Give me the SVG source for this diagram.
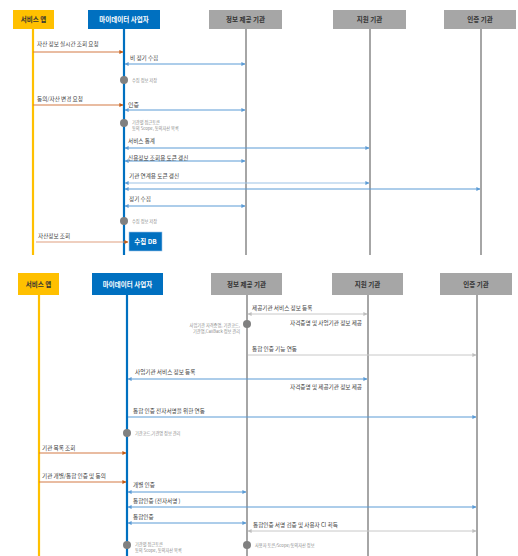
<svg xmlns="http://www.w3.org/2000/svg" width="518" height="556" viewBox="0 0 518 556">
<style>
text{font-family:"Noto Sans CJK KR","Noto Sans",sans-serif}
.hd{font-size:6.5px;font-weight:bold;text-anchor:middle}
.hdw{fill:#fff}
.hdd{fill:#333}
.lb{font-size:5.6px;fill:#404040}
.nt{font-size:4.2px;fill:#8a8a8a}
.ly{stroke:#FFC000;stroke-width:2.2}
.lbl{stroke:#0070C0;stroke-width:2.2}
.lg{stroke:#A6A6A6;stroke-width:2}
.ao{stroke:#D47A45;stroke-width:1.1;fill:none;marker-end:url(#mo)}
.ab{stroke:#5B9BD5;stroke-width:1;fill:none}
.ab2{stroke:#5B9BD5;stroke-width:1;fill:none;marker-start:url(#mb);marker-end:url(#mb)}
.ab1{stroke:#5B9BD5;stroke-width:1;fill:none;marker-end:url(#mb)}
.ag2{stroke:#C8C8C8;stroke-width:1;fill:none;marker-start:url(#mg);marker-end:url(#mg)}
.ag1{stroke:#C8C8C8;stroke-width:1;fill:none;marker-end:url(#mg)}
.dot{fill:#808080}
</style>
<defs>
<marker id="mo" viewBox="0 0 10 10" refX="9" refY="5" markerWidth="4" markerHeight="4" orient="auto-start-reverse" markerUnits="userSpaceOnUse"><path d="M0,0L10,5L0,10z" fill="#C55A11"/></marker>
<marker id="mb" viewBox="0 0 10 10" refX="9" refY="5" markerWidth="4" markerHeight="4" orient="auto-start-reverse" markerUnits="userSpaceOnUse"><path d="M0,0L10,5L0,10z" fill="#5B9BD5"/></marker>
<marker id="mg" viewBox="0 0 10 10" refX="9" refY="5" markerWidth="4" markerHeight="4" orient="auto-start-reverse" markerUnits="userSpaceOnUse"><path d="M0,0L10,5L0,10z" fill="#BFBFBF"/></marker>
</defs>
<rect width="518" height="556" fill="#fff"/>

<!-- TOP PANEL -->
<g id="t-app"><line class="ly" x1="33" y1="29" x2="33" y2="255"/><rect x="13" y="10" width="41" height="19" fill="#FFC000"/><text class="hd hdd" x="33.5" y="22">서비스 앱</text></g>
<g id="t-md"><line class="lbl" x1="124" y1="29" x2="124" y2="255"/><rect x="88" y="10" width="72" height="19" fill="#0070C0"/><text class="hd hdw" x="124" y="22">마이데이터 사업자</text></g>
<g id="t-info"><line class="lg" x1="246" y1="29" x2="246" y2="255"/><rect x="209" y="10" width="73" height="19" fill="#A6A6A6"/><text class="hd hdd" x="245.5" y="22">정보 제공 기관</text></g>
<g id="t-sup"><line class="lg" x1="370" y1="29" x2="370" y2="255"/><rect x="333" y="10" width="73" height="19" fill="#A6A6A6"/><text class="hd hdd" x="369.5" y="22">지원 기관</text></g>
<g id="t-auth"><line class="lg" x1="481" y1="29" x2="481" y2="255"/><rect x="444" y="10" width="72" height="19" fill="#A6A6A6"/><text class="hd hdd" x="480" y="22">인증 기관</text></g>
<g id="t-db"><rect x="129" y="232" width="33" height="19" fill="#0070C0" stroke="#9DC3E6" stroke-width="0.6"/><text class="hd hdw" x="145.5" y="244">수집 DB</text></g>

<g id="t-notes">
<circle class="dot" cx="124" cy="80" r="4"/><text class="nt" x="132" y="81.5">수집 정보 저장</text>
<circle class="dot" cx="124" cy="123" r="4"/><text class="nt" x="132" y="123.5">기관별 접근토큰</text><text class="nt" x="132" y="129.5">동의 Scope, 동의자산 목록</text>
<circle class="dot" cx="124" cy="221" r="4"/><text class="nt" x="132" y="222.5">수집 정보 저장</text>
</g>

<g id="t-connectors">
<line class="ao" x1="33" y1="52" x2="123" y2="52"/><text class="lb" x="37" y="46">자산 정보 실시간 조회 요청</text>
<line class="ab2" x1="125" y1="64" x2="245" y2="64"/><text class="lb" x="130" y="60">비 정기 수집</text>
<line class="ao" x1="33" y1="105" x2="123" y2="105"/><text class="lb" x="37" y="101">동의/자산 변경 요청</text>
<line class="ab2" x1="125" y1="110" x2="245" y2="110"/><text class="lb" x="128" y="107" style="font-size:6px">인증</text>
<line class="ab2" x1="125" y1="148" x2="369" y2="148"/><text class="lb" x="128" y="143">서비스 통계</text>
<line class="ab2" x1="125" y1="161" x2="245" y2="161"/><text class="lb" x="128" y="160">신용정보 조회용 토큰 갱신</text>
<line class="ab2" x1="125" y1="183" x2="369" y2="183" style="stroke:#9DC3E6"/>
<line class="ab2" x1="125" y1="189" x2="480" y2="189"/><text class="lb" x="129" y="178">기관 연계용 토큰 갱신</text>
<line class="ab2" x1="125" y1="206" x2="245" y2="206"/><text class="lb" x="129" y="201">정기 수집</text>
<line class="ao" x1="36" y1="242" x2="128" y2="242" style="stroke:#E0A080"/><text class="lb" x="38" y="238">자산정보 조회</text>
</g>

<!-- BOTTOM PANEL -->
<g id="b-app"><line class="ly" x1="39" y1="295" x2="39" y2="556"/><rect x="18" y="273" width="41" height="22" fill="#FFC000"/><text class="hd hdd" x="38.5" y="286.5">서비스 앱</text></g>
<g id="b-md"><line class="lbl" x1="127" y1="295" x2="127" y2="556"/><rect x="92" y="273" width="71" height="22" fill="#0070C0"/><text class="hd hdw" x="127.5" y="286.5">마이데이터 사업자</text></g>
<g id="b-info"><line class="lg" x1="247" y1="295" x2="247" y2="556"/><rect x="211" y="273" width="71" height="22" fill="#A6A6A6"/><text class="hd hdd" x="246.5" y="286.5">정보 제공 기관</text></g>
<g id="b-sup"><line class="lg" x1="368" y1="295" x2="368" y2="556"/><rect x="332" y="273" width="71" height="22" fill="#A6A6A6"/><text class="hd hdd" x="367.5" y="286.5">지원 기관</text></g>
<g id="b-auth"><line class="lg" x1="477" y1="295" x2="477" y2="556"/><rect x="440" y="273" width="72" height="22" fill="#A6A6A6"/><text class="hd hdd" x="476" y="286.5">인증 기관</text></g>

<g id="b-notes">
<circle class="dot" cx="247" cy="324" r="4"/>
<text class="nt" x="240" y="327" text-anchor="end">사업기관 자격증명, 기관코드,</text>
<text class="nt" x="240" y="333" text-anchor="end">기관명,CallBack 정보 관리</text>
<circle class="dot" cx="127" cy="433" r="4"/><text class="nt" x="135" y="434.5">기관코드,기관명 정보 관리</text>
<circle class="dot" cx="127" cy="545" r="4"/><text class="nt" x="135" y="546">기관별 접근토큰</text><text class="nt" x="135" y="551.5">동의 Scope, 동의자산 목록</text>
<circle class="dot" cx="247" cy="545" r="4"/><text class="nt" x="255" y="547">사용자 토큰/Scope/동의자산 정보</text>
</g>

<g id="b-connectors">
<line class="ag2" x1="248" y1="314" x2="367" y2="314"/><text class="lb" x="252" y="310">제공기관 서비스 정보 등록</text>
<text class="lb" x="362" y="325" text-anchor="end">자격증명 및 사업기관 정보 제공</text>
<line class="ag1" x1="248" y1="355" x2="476" y2="355"/><text class="lb" x="252" y="351">통합 인증 기능 연동</text>
<line class="ab2" x1="128" y1="379" x2="367" y2="379"/><text class="lb" x="135" y="374">사업기관 서비스 정보 등록</text>
<text class="lb" x="362" y="389" text-anchor="end">자격증명 및 제공기관 정보 제공</text>
<line class="ab1" x1="128" y1="417" x2="476" y2="417"/><text class="lb" x="133" y="413">통합 인증 전자서명을 위한 연동</text>
<line class="ao" x1="39" y1="453" x2="126" y2="453"/><text class="lb" x="42" y="450">기관 목록 조회</text>
<line class="ao" x1="39" y1="482" x2="126" y2="482"/><text class="lb" x="42" y="478">기관 개별/통합 인증 및 동의</text>
<line class="ab2" x1="128" y1="492" x2="246" y2="492"/><text class="lb" x="133" y="487">개별 인증</text>
<line class="ab2" x1="128" y1="507" x2="476" y2="507"/><text class="lb" x="133" y="503">통합인증 (전자서명 )</text>
<line class="ab2" x1="128" y1="523" x2="246" y2="523"/><text class="lb" x="133" y="519">통합인증</text>
<line class="ag2" x1="248" y1="531" x2="476" y2="531"/><text class="lb" x="253" y="527">통합인증 서명 검증 및 사용자 CI 획득</text>
</g>
</svg>
